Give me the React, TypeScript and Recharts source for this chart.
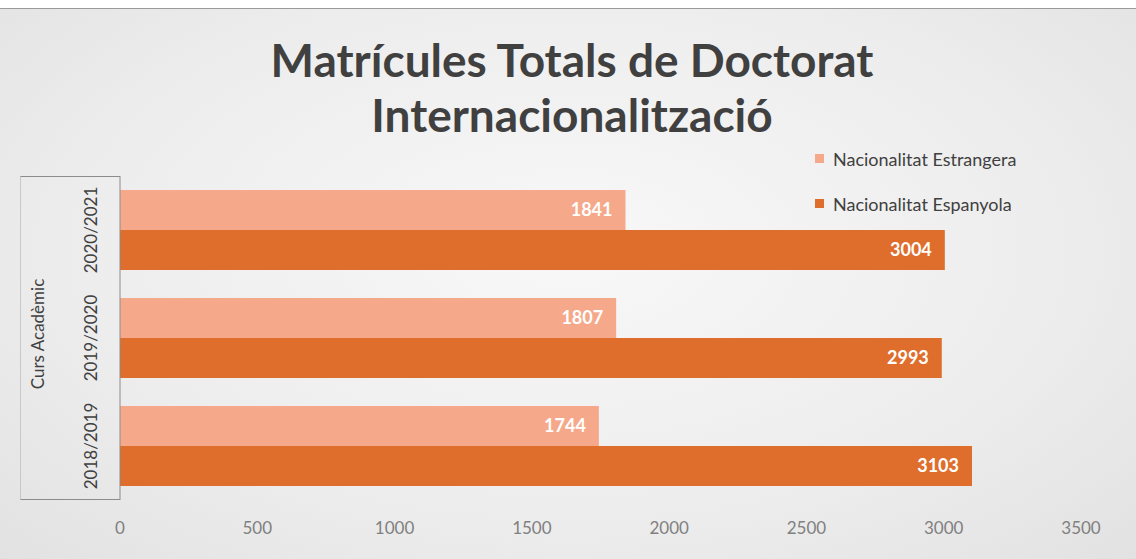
import { BarChart, Bar, XAxis, YAxis, LabelList } from "recharts"

const cursos = ["2020/2021", "2019/2020", "2018/2019"]
const estrangera = [1841, 1807, 1744]
const espanyola = [3004, 2993, 3103]
const xTicks = [0, 500, 1000, 1500, 2000, 2500, 3000, 3500]
const seriesNames = ["Nacionalitat Estrangera", "Nacionalitat Espanyola"]

const data = cursos.map((curs, i) => ({
  curs,
  estrangera: estrangera[i],
  espanyola: espanyola[i],
}))

const LIGHT = "#f5a98a"
const DARK = "#df6d2b"
const seriesColors = [LIGHT, DARK]

function YTick({ x, y, payload }: any) {
  return (
    <text
      x={0}
      y={0}
      transform={`translate(${x - 22},${y}) rotate(-90)`}
      textAnchor="middle"
      dominantBaseline="central"
      fontSize={17}
      fill="#404040"
    >
      {payload.value}
    </text>
  )
}

function AxisTitle({ viewBox }: any) {
  const cx = viewBox.x + 37
  const cy = viewBox.y + viewBox.height / 2 - 4
  return (
    <text
      transform={`translate(${cx},${cy}) rotate(-90)`}
      textAnchor="middle"
      dominantBaseline="central"
      fontSize={17}
      fill="#404040"
    >
      Curs Acadèmic
    </text>
  )
}

export default function App() {
  return (
    <div
      style={{
        position: "absolute",
        left: 0,
        top: 0,
        width: 1136,
        height: 559,
        fontFamily: "Lato, 'Open Sans', sans-serif",
        background: "radial-gradient(ellipse at 50% 45%, #f8f8f8 0%, #ededed 60%, #e2e2e2 100%)",
        overflow: "hidden",
      }}
    >
      <div style={{ position: "absolute", left: 0, top: 0, width: 1136, height: 8, background: "#fff", borderBottom: "1px solid #9a9a9a" }} />
      <div
        style={{
          position: "absolute",
          left: 0,
          width: 1136,
          top: 32,
          textAlign: "center",
          fontSize: 46,
          fontWeight: "bold",
          color: "#404040",
          lineHeight: "55px",
          paddingLeft: 4,
        }}
      >
        Matrícules Totals de Doctorat
        <br />
        Internacionalització
      </div>
      <div style={{ position: "absolute", left: 815, top: 136 }}>
        {seriesNames.map((name, i) => (
          <div key={name} style={{ display: "flex", alignItems: "center", height: 45 }}>
            <div style={{ width: 9, height: 9, background: seriesColors[i], marginRight: 9 }} />
            <span style={{ fontSize: 18, color: "#404040" }}>{name}</span>
          </div>
        ))}
      </div>
      <div
        style={{
          position: "absolute",
          left: 20,
          top: 176,
          width: 100,
          height: 324,
          borderTop: "1px solid #8c8c8c",
          borderBottom: "1px solid #8c8c8c",
          borderLeft: "1px solid #c8c8c8",
          boxSizing: "border-box",
        }}
      />
      <div style={{ position: "absolute", left: 0, top: 0 }}>
        <BarChart
          width={1136}
          height={559}
          data={data}
          layout="vertical"
          margin={{ top: 176, right: 55, bottom: 0, left: 0 }}
          barCategoryGap={14}
          barGap={0}
        >
          <XAxis
            type="number"
            domain={[0, 3500]}
            ticks={xTicks}
            axisLine={false}
            tickLine={false}
            tickSize={0}
            tickMargin={22}
            height={59}
            tick={{ fontSize: 17, fill: "#808080" }}
          />
          <YAxis
            type="category"
            dataKey="curs"
            width={120}
            tickLine={false}
            axisLine={{ stroke: "#8c8c8c" }}
            tick={<YTick />}
            label={<AxisTitle />}
          />
          <Bar dataKey="estrangera" name={seriesNames[0]} fill={LIGHT} barSize={40} isAnimationActive={false}>
            <LabelList dataKey="estrangera" position="insideRight" offset={13} fill="#fff" fontSize={18} fontWeight="bold" />
          </Bar>
          <Bar dataKey="espanyola" name={seriesNames[1]} fill={DARK} barSize={40} isAnimationActive={false}>
            <LabelList dataKey="espanyola" position="insideRight" offset={13} fill="#fff" fontSize={18} fontWeight="bold" />
          </Bar>
        </BarChart>
      </div>
    </div>
  )
}
